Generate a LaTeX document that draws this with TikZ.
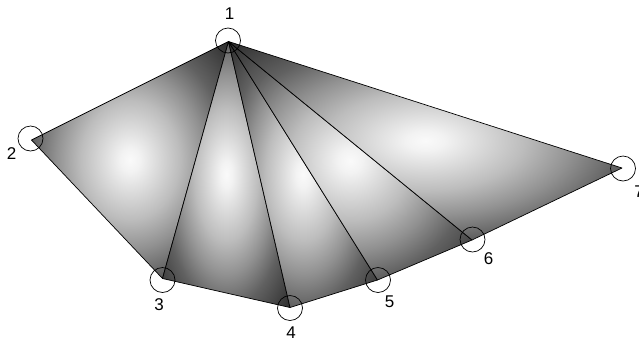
\documentclass[tikz,border=0pt]{standalone}
\usepackage{fontspec}
\setmainfont{Liberation Sans}
\pgfdeclareradialshading{trishade}{\pgfpoint{0bp}{0bp}}{color(0bp)=(black!2); color(2.5bp)=(black!5); color(12.5bp)=(black!26); color(18.75bp)=(black!43); color(25bp)=(black!62); color(35.5bp)=(black!83); color(50bp)=(black!88)}
\begin{document}
\begin{tikzpicture}[x=1pt,y=-1pt,
  tri/.style={draw=black,line width=0.7pt,line join=round,shading=trishade},
  ring/.style={circle,draw=black,line width=0.7pt,minimum size=25pt,inner sep=0pt},
  lbl/.style={font=\fontsize{17}{20}\selectfont,inner sep=0pt}]
\useasboundingbox (0,0) rectangle (639,341);
\coordinate (v1) at (228.5,41.5);
\coordinate (v2) at (31.5,140);
\coordinate (v3) at (162.5,278.5);
\coordinate (v4) at (290,307.5);
\coordinate (v5) at (377.5,280);
\coordinate (v6) at (472,240);
\coordinate (v7) at (622,168);
\shade[tri] (v1) -- (v2) -- (v3) -- cycle;
\shade[tri] (v1) -- (v3) -- (v4) -- cycle;
\shade[tri] (v1) -- (v4) -- (v5) -- cycle;
\shade[tri] (v1) -- (v5) -- (v6) -- cycle;
\shade[tri] (v1) -- (v6) -- (v7) -- cycle;
\node[ring] (c1) at (228,40.5) {};
\node[ring] (c2) at (30.5,138.5) {};
\node[ring] (c3) at (162.5,280) {};
\node[ring] (c4) at (290,308) {};
\node[ring] (c5) at (378,280) {};
\node[ring] (c6) at (472.5,239.5) {};
\node[ring] (c7) at (623,168.5) {};
\node[lbl] (l1) at (229.5,13.5) {1};
\node[lbl] (l2) at (11.5,153.5) {2};
\node[lbl] (l3) at (159,305) {3};
\node[lbl] (l4) at (291,333) {4};
\node[lbl] (l5) at (389.5,302) {5};
\node[lbl] (l6) at (488.5,259) {6};
\node[lbl] (l7) at (639,191.5) {7};
\end{tikzpicture}
\end{document}
